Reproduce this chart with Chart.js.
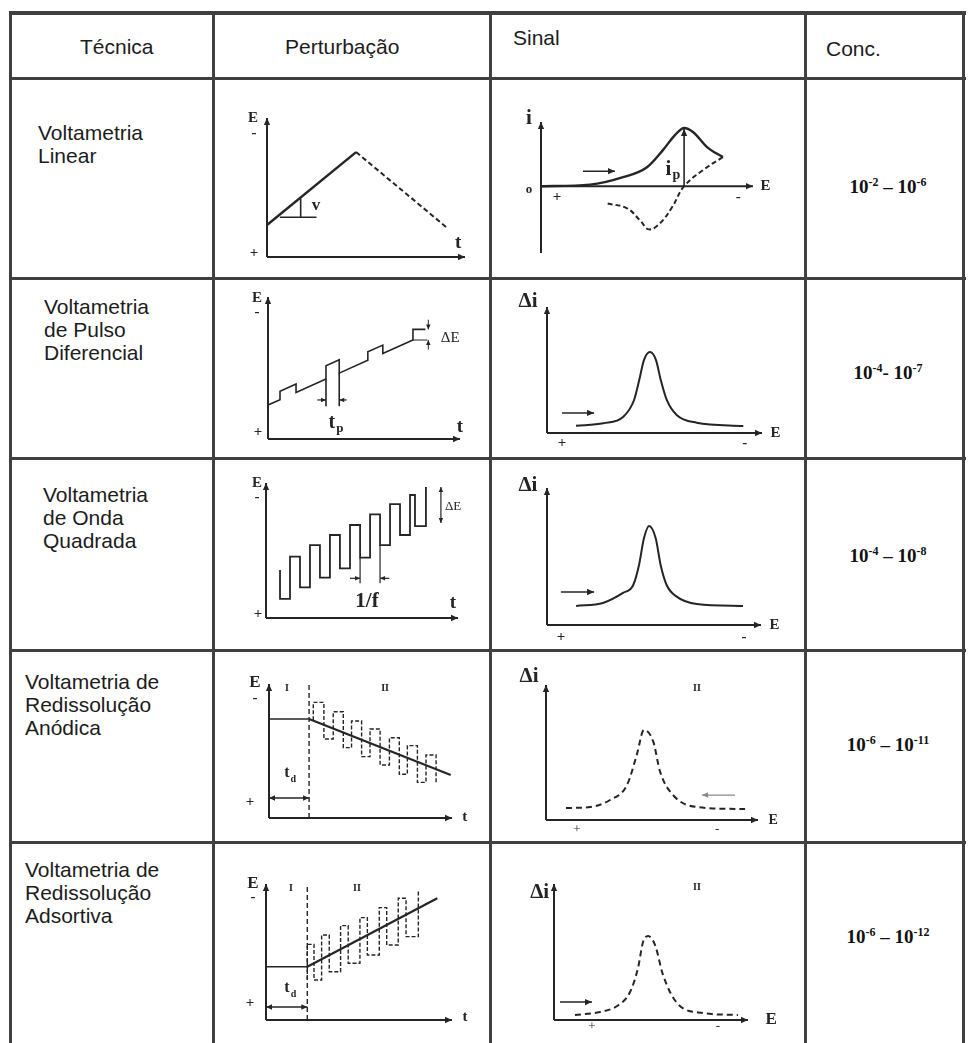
<!DOCTYPE html>
<html lang="pt">
<head>
<meta charset="utf-8">
<title>Técnicas voltamétricas</title>
<script src="https://cdn.jsdelivr.net/npm/chart.js@4.4.1/dist/chart.umd.min.js"></script>
<style>
  html, body { margin: 0; background: #fff; }
  #page { position: relative; width: 972px; height: 1043px; overflow: hidden;
          font-family: "Liberation Sans", Arial, sans-serif; color: #1c1c1c; }
  .rule { position: absolute; background: #404040; z-index: 2; }
  .txt { position: absolute; font-size: 21px; line-height: 23px; white-space: nowrap; }
  .conc { position: absolute; font: bold 19px "Liberation Serif", serif; white-space: nowrap;
          transform: translate(-50%, -50%); color: #111; }
  .conc sup { font-size: 12px; vertical-align: 7px; line-height: 0; }
  canvas { position: absolute; z-index: 1; filter: blur(0.35px); }
</style>
</head>
<body>
<div id="page"></div>
<script>
// textos da tabela
const headers = ["Técnica", "Perturbação", "Sinal", "Conc."];
const techniques = [
  ["Voltametria", "Linear"],
  ["Voltametria", "de Pulso", "Diferencial"],
  ["Voltametria", "de Onda", "Quadrada"],
  ["Voltametria de", "Redissolução", "Anódica"],
  ["Voltametria de", "Redissolução", "Adsortiva"]
];
const concFrom = ["-2", "-4", "-4", "-6", "-6"];
const concTo = ["-6", "-7", "-8", "-11", "-12"];
const concSep = [" – ", "- ", " – ", " – ", " – "];

// Voltametria linear: rampa E x t
const lsvRampT = [0, 4.5];
const lsvRampE = [2.3, 7.55];
const lsvBackT = [4.5, 9.05];
const lsvBackE = [7.55, 2.15];
const lsvRateT = [0.65, 2.5];
const lsvRateE = [2.86, 2.86];
const lsvRiseT = [1.7, 1.7];
const lsvRiseE = [2.86, 4.2];
// voltamograma cíclico (i x E)
const cvFwdE = [0, 2.31, 3.87, 5.0, 5.75, 6.32, 6.75, 7.17, 7.83, 8.58];
const cvFwdI = [0, 0.12, 0.7, 1.48, 2.81, 3.98, 4.53, 4.22, 3.05, 2.27];
const cvBackE = [8.58, 7.64, 6.75, 6.18, 5.61, 5.09, 4.67, 4.06, 3.11];
const cvBackI = [2.27, 1.25, 0, -1.64, -2.89, -3.36, -2.66, -1.72, -1.33];

// Pulso diferencial
const dpvT = [0, 0.625, 0.625, 1.46, 1.46, 3.02, 3.02, 3.71, 3.71, 5.2, 5.2, 5.98, 5.98, 7.55, 7.55, 8.2];
const dpvE = [2.39, 2.77, 3.36, 3.87, 3.28, 4.22, 5.16, 5.58, 4.64, 5.55, 6.14, 6.61, 6.02, 6.97, 7.72, 7.72];
const dpvBaseT = [7.55, 8.3];
const dpvBaseE = [6.97, 6.97];
const dpvGuideAT = [3.02, 3.02];
const dpvGuideAE = [4.22, 2.3];
const dpvGuideBT = [3.71, 3.71];
const dpvGuideBE = [4.64, 2.3];
const dpvPeakE = [1.35, 2.62, 3.55, 4.05, 4.29, 4.51, 4.79, 5.07, 5.29, 5.57, 6.03, 6.96, 9.13];
const dpvPeakI = [0.58, 0.77, 1.29, 2.62, 4.21, 5.79, 6.43, 5.79, 4.21, 2.62, 1.43, 0.82, 0.56];

// Onda quadrada
const swvT = [0.73, 0.73, 1.25, 1.77, 2.29, 2.81, 3.33, 3.85, 4.375, 4.9, 5.42, 5.94, 6.46, 6.98, 7.5, 7.76, 8.33];
const swvE = [3.56, 1.41, 4.54, 2.27, 5.4, 2.99, 6.15, 3.68, 6.89, 4.47, 7.68, 5.4, 8.44, 6.15, 9.11, 6.81, 9.7];
const swvGuideAT = [4.9, 4.9];
const swvGuideAE = [4.47, 2.57];
const swvGuideBT = [5.94, 5.94];
const swvGuideBE = [5.4, 2.57];
const swvPeakE = [1.36, 2.62, 3.55, 4.03, 4.3, 4.53, 4.77, 5.08, 5.31, 5.59, 6.06, 7.0, 9.16];
const swvPeakI = [1.39, 1.61, 2.34, 2.92, 4.38, 6.33, 7.23, 6.33, 4.38, 2.92, 2.07, 1.53, 1.39];

// Redissolução anódica
const asvHoldT = [0, 2.19];
const asvHoldE = [7.39, 7.39];
const asvScanT = [2.19, 9.93];
const asvScanE = [7.39, 3.21];
const asvDepT = [2.19, 2.19];
const asvDepE = [0, 10];
const asvWaveT = [2.42, 2.42, 3.0, 3.51, 4.06, 4.51, 5.06, 5.52, 6.07, 6.58, 7.12, 7.56, 8.11, 8.58, 9.13];
const asvWaveE = [7.3, 8.63, 5.9, 7.93, 5.25, 7.24, 4.58, 6.64, 3.96, 5.99, 3.26, 5.4, 2.66, 4.7, 2.51];
const asvPeakE = [0.94, 2.08, 3.02, 3.82, 4.28, 4.62, 5.06, 5.38, 5.99, 7.12, 9.39];
const asvPeakI = [0.89, 0.96, 1.48, 2.59, 4.81, 6.67, 5.8, 3.58, 1.85, 0.96, 0.81];

// Redissolução adsortiva
const adsHoldT = [0, 2.22];
const adsHoldE = [3.92, 3.92];
const adsScanT = [2.22, 9.21];
const adsScanE = [3.92, 8.95];
const adsDepT = [2.22, 2.22];
const adsDepE = [0, 9.78];
const adsWaveT = [2.22, 2.22, 2.58, 2.99, 3.4, 4.01, 4.42, 5.05, 5.45, 6.09, 6.49, 7.11, 7.53, 8.19];
const adsWaveE = [2.94, 5.56, 2.94, 6.25, 3.55, 6.94, 4.17, 7.53, 4.78, 8.26, 5.51, 8.95, 6.13, 9.56];
const adsPeakE = [1.08, 2.37, 3.25, 3.92, 4.33, 4.59, 4.85, 5.21, 5.62, 6.34, 7.68, 9.48];
const adsPeakI = [0.37, 0.59, 1.03, 2.06, 3.82, 5.74, 6.18, 5.51, 3.31, 1.25, 0.51, 0.37];

const INK = "#252525";
const F_AX = 'bold 15px "Liberation Serif"';
const F_T = 'bold 19px "Liberation Serif"';
const F_BIG = 'bold 21px "Liberation Serif"';
const F_SIGN = 'bold 15px "Liberation Serif"';
const F_SMALL = 'bold 10px "Liberation Serif"';
const F_DE = '15px "Liberation Serif"';

const page = document.getElementById("page");

function addDiv(cls, css, html) {
  const d = document.createElement("div");
  d.className = cls;
  Object.assign(d.style, css);
  d.innerHTML = html || "";
  page.appendChild(d);
  return d;
}

// grade da tabela
const rowLines = [12, 78, 278, 458, 650, 842];
const colLines = [10, 213, 490, 805, 963];
rowLines.forEach((y, i) => addDiv("rule", { left: "10px", top: (y - 1) + "px", width: "956px", height: (i === 0 ? 4 : 3) + "px" }));
colLines.forEach(x => addDiv("rule", { left: (x - 1) + "px", top: "11px", width: "3px", height: "1032px" }));

// cabeçalho
const headPos = [[80, 35], [285, 35], [513, 26], [826, 37]];
headers.forEach((h, i) => addDiv("txt", { left: headPos[i][0] + "px", top: headPos[i][1] + "px" }, h));

// coluna Técnica
const techPos = [[38, 121], [44, 295], [43, 483], [25, 670], [25, 858]];
techniques.forEach((lines, i) => addDiv("txt", { left: techPos[i][0] + "px", top: techPos[i][1] + "px" }, lines.join("<br>")));

// coluna Conc.
const concY = [187, 373, 556, 745, 937];
concFrom.forEach((a, i) => addDiv("conc", { left: "888px", top: concY[i] + "px" },
  "10<sup>" + a + "</sup>" + concSep[i] + "10<sup>" + concTo[i] + "</sup>"));

function pts(xs, ys) {
  return xs.map((v, i) => ({ x: v, y: ys[i] }));
}
function line(xs, ys, style) {
  return Object.assign({
    data: pts(xs, ys), showLine: true, borderColor: INK, borderWidth: 2,
    pointRadius: 0, fill: false, clip: false
  }, style || {});
}
const DASH = { borderDash: [5, 3] };
const THIN = { borderWidth: 1.6 };
const CURVE = { cubicInterpolationMode: "monotone" };
const STEP = { stepped: true, borderWidth: 1.8 };

function drawArrow(ctx, x1, y1, x2, y2, o) {
  ctx.save();
  ctx.lineWidth = o.width || 1.6;
  ctx.strokeStyle = ctx.fillStyle = o.color || INK;
  ctx.beginPath(); ctx.moveTo(x1, y1); ctx.lineTo(x2, y2); ctx.stroke();
  const L = o.head || 7, W = L * 0.45;
  const head = (xa, ya, xb, yb) => {
    const a = Math.atan2(yb - ya, xb - xa);
    ctx.beginPath();
    ctx.moveTo(xb, yb);
    ctx.lineTo(xb - L * Math.cos(a) + W * Math.sin(a), yb - L * Math.sin(a) - W * Math.cos(a));
    ctx.lineTo(xb - L * Math.cos(a) - W * Math.sin(a), yb - L * Math.sin(a) + W * Math.cos(a));
    ctx.closePath(); ctx.fill();
  };
  head(x1, y1, x2, y2);
  if (o.both) head(x2, y2, x1, y1);
  ctx.restore();
}

// eixos com setas, setas auxiliares e rótulos
const sketch = {
  id: "sketch",
  afterDatasetsDraw(chart, args, opts) {
    const { ctx, scales: { x, y } } = chart;
    const px = v => x.getPixelForValue(v), py = v => y.getPixelForValue(v);
    drawArrow(ctx, px(0), py(y.min), px(0), py(y.max), { width: 2 });
    drawArrow(ctx, px(0), py(0), px(x.max), py(0), { width: 2 });
    (opts.arrows || []).forEach(a => drawArrow(ctx, px(a.from[0]), py(a.from[1]), px(a.to[0]), py(a.to[1]), a));
    ctx.save();
    ctx.fillStyle = INK;
    ctx.textBaseline = "middle";
    (opts.labels || []).forEach(l => {
      ctx.font = l.font || F_AX;
      ctx.textAlign = l.align || "center";
      const X = px(l.x), Y = py(l.y);
      ctx.fillText(l.text, X, Y);
      if (l.sub) {
        const w = ctx.measureText(l.text).width;
        const right = l.align === "left" ? X + w : l.align === "right" ? X : X + w / 2;
        ctx.font = l.subFont || 'bold 12px "Liberation Serif"';
        ctx.textAlign = "left";
        ctx.fillText(l.sub, right + 1, Y + 6);
      }
    });
    ctx.restore();
  }
};

const diagrams = [
  { // linear: perturbação
    frame: [214, 79, 491, 279], axes: [267, 465, 118, 257],
    sets: [line(lsvRampT, lsvRampE, { borderWidth: 2.4 }), line(lsvBackT, lsvBackE, DASH),
           line(lsvRateT, lsvRateE, THIN), line(lsvRiseT, lsvRiseE, THIN)],
    labels: [
      { text: "E", x: -0.71, y: 10 }, { text: "-", x: -0.66, y: 8.92, font: F_SIGN },
      { text: "+", x: -0.66, y: 0.27, font: F_SIGN }, { text: "t", x: 9.65, y: 0.99, font: F_T },
      { text: "v", x: 2.47, y: 3.73, font: 'bold 17px "Liberation Serif"' }
    ]
  },
  { // linear: sinal
    frame: [491, 79, 806, 279], axes: [541, 753, 122, 253], yMin: -5.2, yMax: 5,
    sets: [line(cvFwdE, cvFwdI, Object.assign({ borderWidth: 2.4 }, CURVE)),
           line(cvBackE, cvBackI, Object.assign({ tension: 0.4 }, DASH))],
    arrows: [{ from: [6.75, 0], to: [6.75, 4.45] }, { from: [1.98, 1.17], to: [3.49, 1.17] }],
    labels: [
      { text: "i", x: -0.57, y: 5.23, font: F_BIG }, { text: "o", x: -0.57, y: -0.23, font: 'bold 13px "Liberation Serif"' },
      { text: "+", x: 0.75, y: -0.86, font: F_SIGN }, { text: "-", x: 9.3, y: -0.86, font: F_SIGN },
      { text: "E", x: 10.35, y: 0, align: "left" },
      { text: "i", sub: "p", x: 6.15, y: 1.3, font: F_BIG, align: "right", subFont: 'bold 14px "Liberation Serif"' }
    ]
  },
  { // pulso diferencial: perturbação
    frame: [214, 279, 491, 459], axes: [268, 460, 297, 439],
    sets: [line(dpvT, dpvE, THIN), line(dpvBaseT, dpvBaseE, { borderWidth: 1 }),
           line(dpvGuideAT, dpvGuideAE, THIN), line(dpvGuideBT, dpvGuideBE, THIN)],
    arrows: [
      { from: [2.57, 2.75], to: [3.02, 2.75], head: 5, width: 1.2 }, { from: [4.1, 2.75], to: [3.71, 2.75], head: 5, width: 1.2 },
      { from: [8.35, 8.4], to: [8.35, 7.72], head: 5, width: 1 }, { from: [8.35, 6.3], to: [8.35, 6.97], head: 5, width: 1 }
    ],
    labels: [
      { text: "E", x: -0.57, y: 9.93 }, { text: "-", x: -0.57, y: 8.94, font: F_SIGN },
      { text: "+", x: -0.52, y: 0.49, font: F_SIGN }, { text: "t", x: 10.0, y: 0.85, font: F_T },
      { text: "t", sub: "p", x: 3.33, y: 1.13, font: 'bold 20px "Liberation Serif"', subFont: 'bold 13px "Liberation Serif"' },
      { text: "ΔE", x: 9.0, y: 7.11, font: F_DE, align: "left" }
    ]
  },
  { // pulso diferencial: sinal
    frame: [491, 279, 806, 459], axes: [547, 762, 307, 433],
    sets: [line(dpvPeakE, dpvPeakI, CURVE)],
    arrows: [{ from: [0.7, 1.59], to: [2.19, 1.59] }],
    labels: [
      { text: "Δi", x: -0.88, y: 10.4, font: F_BIG }, { text: "+", x: 0.7, y: -0.8, font: F_SIGN },
      { text: "-", x: 9.2, y: -0.8, font: F_SIGN }, { text: "E", x: 10.4, y: 0, align: "left" }
    ]
  },
  { // onda quadrada: perturbação
    frame: [214, 459, 491, 651], axes: [266, 458, 483, 618],
    sets: [line(swvT, swvE, STEP), line(swvGuideAT, swvGuideAE, { borderWidth: 1.2 }),
           line(swvGuideBT, swvGuideBE, { borderWidth: 1.2 })],
    arrows: [
      { from: [9.11, 9.7], to: [9.11, 7.04], both: true, head: 5, width: 1.2 },
      { from: [4.375, 2.94], to: [4.9, 2.94], head: 5, width: 1.2 }, { from: [6.42, 2.94], to: [5.94, 2.94], head: 5, width: 1.2 }
    ],
    labels: [
      { text: "E", x: -0.47, y: 10 }, { text: "-", x: -0.47, y: 8.96, font: F_SIGN },
      { text: "+", x: -0.42, y: 0.3, font: F_SIGN }, { text: "t", x: 9.74, y: 1.11, font: F_T },
      { text: "1/f", x: 5.26, y: 1.19, font: F_BIG }, { text: "ΔE", x: 9.32, y: 8.24, font: '13px "Liberation Serif"', align: "left" }
    ]
  },
  { // onda quadrada: sinal
    frame: [491, 459, 806, 651], axes: [547, 761, 488, 625],
    sets: [line(swvPeakE, swvPeakI, CURVE)],
    arrows: [{ from: [0.65, 2.41], to: [2.2, 2.41] }],
    labels: [
      { text: "Δi", x: -0.89, y: 10.2, font: F_BIG }, { text: "+", x: 0.65, y: -0.88, font: F_SIGN },
      { text: "-", x: 9.2, y: -0.88, font: F_SIGN }, { text: "E", x: 10.4, y: 0, align: "left" }
    ]
  },
  { // redissolução anódica: perturbação
    frame: [214, 651, 491, 843], axes: [269, 452, 684, 818],
    sets: [line(asvHoldT, asvHoldE, THIN), line(asvScanT, asvScanE, { borderWidth: 2.2 }),
           line(asvDepT, asvDepE, Object.assign({ borderWidth: 1.4 }, DASH)),
           line(asvWaveT, asvWaveE, Object.assign({ borderDash: [4, 2] }, STEP, { borderWidth: 1.4 }))],
    arrows: [{ from: [0, 1.49], to: [2.19, 1.49], both: true, head: 6, width: 1.4 }],
    labels: [
      { text: "E", x: -0.77, y: 10.07, font: 'bold 17px "Liberation Serif"' }, { text: "-", x: -0.77, y: 8.96, font: F_SIGN },
      { text: "+", x: -1.04, y: 1.19, font: F_SIGN }, { text: "t", x: 10.7, y: 0.07, font: 'bold 15px "Liberation Serif"' },
      { text: "I", x: 0.98, y: 9.7, font: F_SMALL }, { text: "II", x: 6.34, y: 9.7, font: F_SMALL },
      { text: "t", sub: "d", x: 0.98, y: 3.36, font: 'bold 16px "Liberation Serif"', subFont: 'bold 10px "Liberation Serif"' }
    ]
  },
  { // redissolução anódica: sinal
    frame: [491, 651, 806, 843], axes: [546, 758, 685, 820],
    sets: [line(asvPeakE, asvPeakI, Object.assign({ borderDash: [6, 4] }, CURVE))],
    arrows: [{ from: [8.92, 1.85], to: [7.36, 1.85], color: "#8a8a8a", width: 1.2, head: 6 }],
    labels: [
      { text: "Δi", x: -0.8, y: 10.6, font: F_BIG }, { text: "II", x: 7.12, y: 9.78, font: F_SMALL },
      { text: "+", x: 1.46, y: -0.74, font: '13px "Liberation Serif"' }, { text: "-", x: 8.07, y: -0.74, font: '13px "Liberation Serif"' },
      { text: "E", x: 10.5, y: 0, align: "left", font: 'bold 14px "Liberation Serif"' }
    ]
  },
  { // redissolução adsortiva: perturbação
    frame: [214, 843, 491, 1043], axes: [266, 452, 884, 1020],
    sets: [line(adsHoldT, adsHoldE, THIN), line(adsScanT, adsScanE, { borderWidth: 2.2 }),
           line(adsDepT, adsDepE, Object.assign({ borderWidth: 1.4 }, DASH)),
           line(adsWaveT, adsWaveE, Object.assign({ borderDash: [4, 2] }, STEP, { borderWidth: 1.4 }))],
    arrows: [{ from: [0, 0.96], to: [2.22, 0.96], both: true, head: 6, width: 1.4 }],
    labels: [
      { text: "E", x: -0.7, y: 10, font: 'bold 17px "Liberation Serif"' }, { text: "-", x: -0.7, y: 9.04, font: F_SIGN },
      { text: "+", x: -0.86, y: 1.25, font: F_SIGN }, { text: "t", x: 10.7, y: 0.22, font: 'bold 15px "Liberation Serif"' },
      { text: "I", x: 1.34, y: 9.7, font: F_SMALL }, { text: "II", x: 4.89, y: 9.7, font: F_SMALL },
      { text: "t", sub: "d", x: 1.13, y: 2.35, font: 'bold 16px "Liberation Serif"', subFont: 'bold 10px "Liberation Serif"' }
    ]
  },
  { // redissolução adsortiva: sinal
    frame: [491, 843, 806, 1043], axes: [554, 748, 884, 1020],
    sets: [line(adsPeakE, adsPeakI, Object.assign({ borderDash: [6, 4] }, CURVE))],
    arrows: [{ from: [0.31, 1.32], to: [1.96, 1.32] }],
    labels: [
      { text: "Δi", x: -0.25, y: 9.4, font: F_BIG, align: "right" }, { text: "II", x: 7.37, y: 9.78, font: F_SMALL },
      { text: "+", x: 1.96, y: -0.5, font: '13px "Liberation Serif"' }, { text: "-", x: 8.45, y: -0.5, font: '13px "Liberation Serif"' },
      { text: "E", x: 10.9, y: 0, align: "left", font: 'bold 17px "Liberation Serif"' }
    ]
  }
];

diagrams.forEach(d => {
  const [l, t, r, b] = d.frame;
  const [x0, xTip, yTop, yBottom] = d.axes;
  const c = document.createElement("canvas");
  c.width = r - l;
  c.height = b - t;
  c.style.left = l + "px";
  c.style.top = t + "px";
  page.appendChild(c);
  new Chart(c, {
    type: "scatter",
    data: { datasets: d.sets },
    options: {
      responsive: false,
      animation: false,
      events: [],
      layout: { padding: { left: x0 - l, right: r - xTip, top: yTop - t, bottom: b - yBottom } },
      scales: {
        x: { type: "linear", display: false, min: 0, max: 10 },
        y: { type: "linear", display: false, min: d.yMin ?? 0, max: d.yMax ?? 10 }
      },
      plugins: {
        legend: { display: false },
        tooltip: { enabled: false },
        sketch: { arrows: d.arrows || [], labels: d.labels || [] }
      }
    },
    plugins: [sketch]
  });
});
</script>
</body>
</html>
